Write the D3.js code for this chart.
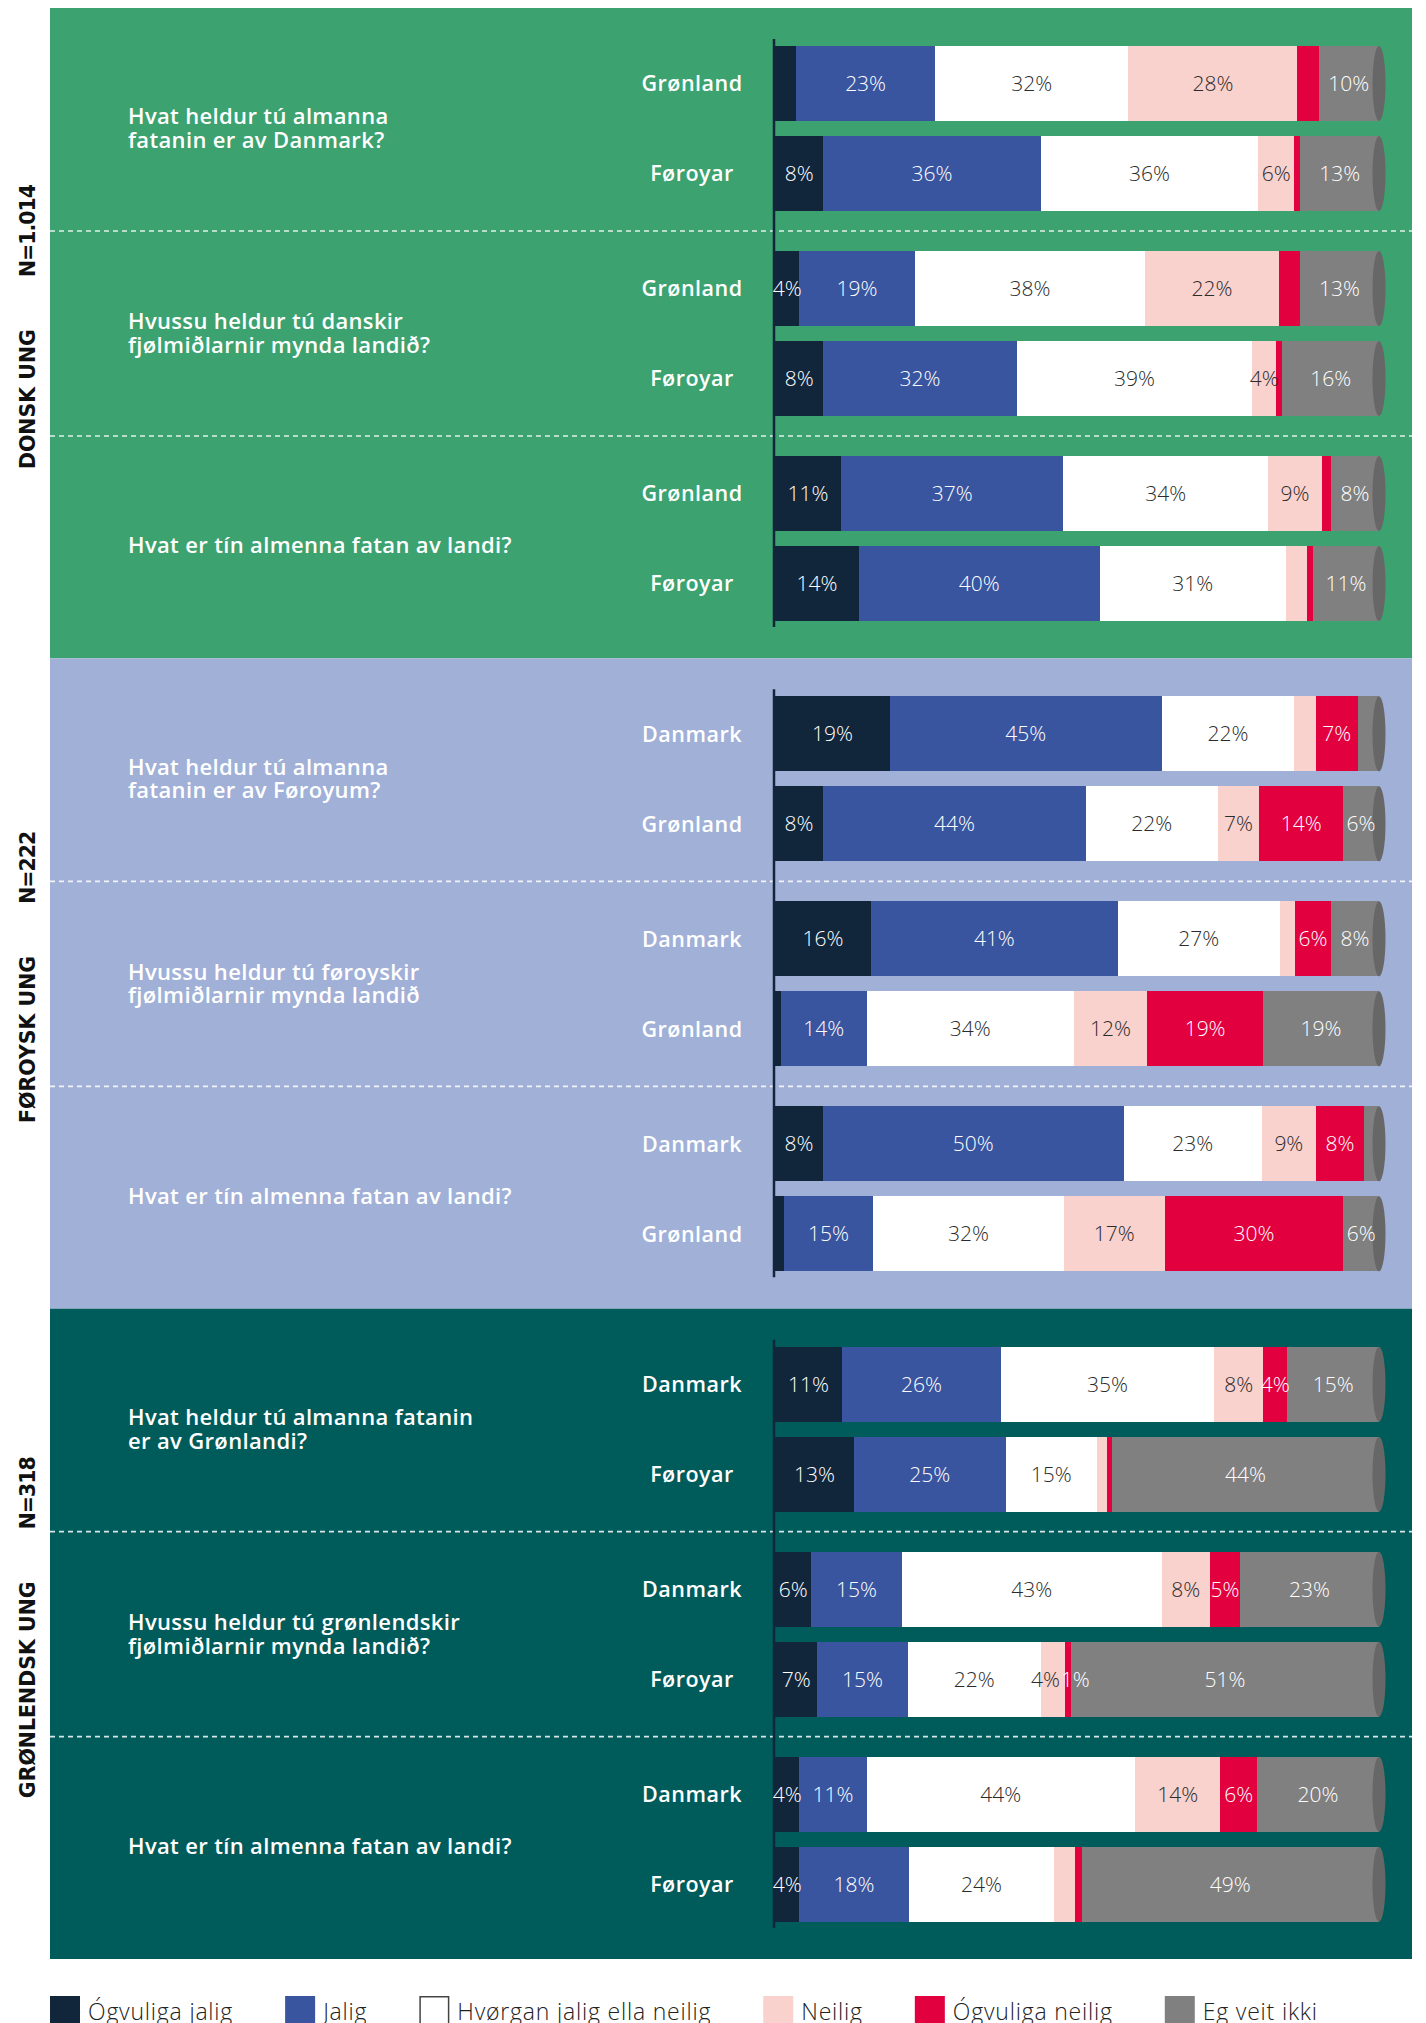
<!DOCTYPE html>
<html>
<head>
<meta charset="utf-8">
<script src="https://cdn.jsdelivr.net/npm/d3@7/dist/d3.min.js"></script>
<style>
  html, body { margin: 0; padding: 0; background: #ffffff; }
  svg { display: block; }
</style>
</head>
<body>
<svg id="chart" width="1426" height="2023"></svg>
<script>
// ---------- DATA ----------
const sections = ["DONSK UNG", "FØROYSK UNG", "GRØNLENDSK UNG"];
const sampleSizes = ["N=1.014", "N=222", "N=318"];
const questions = [
  ["Hvat heldur tú almanna", "fatanin er av Danmark?"],
  ["Hvussu heldur tú danskir", "fjølmiðlarnir mynda landið?"],
  ["Hvat er tín almenna fatan av landi?"],
  ["Hvat heldur tú almanna", "fatanin er av Føroyum?"],
  ["Hvussu heldur tú føroyskir", "fjølmiðlarnir mynda landið"],
  ["Hvat er tín almenna fatan av landi?"],
  ["Hvat heldur tú almanna fatanin", "er av Grønlandi?"],
  ["Hvussu heldur tú grønlendskir", "fjølmiðlarnir mynda landið?"],
  ["Hvat er tín almenna fatan av landi?"]
];
const rowLabels = [
  "Grønland", "Føroyar", "Grønland", "Føroyar", "Grønland", "Føroyar",
  "Danmark", "Grønland", "Danmark", "Grønland", "Danmark", "Grønland",
  "Danmark", "Føroyar", "Danmark", "Føroyar", "Danmark", "Føroyar"
];
const seriesNames = ["Ógvuliga jalig", "Jalig", "Hvørgan jalig ella neilig", "Neilig", "Ógvuliga neilig", "Eg veit ikki"];

const ogvuligaJalig  = [3.5, 8, 4, 8, 11, 14,  19, 8, 16, 1, 8, 1.5,  11, 13, 6, 7, 4, 4];
const jalig          = [23, 36, 19, 32, 37, 40,  45, 44, 41, 14, 50, 15,  26, 25, 15, 15, 11, 18];
const hvorgan        = [32, 36, 38, 39, 34, 31,  22, 22, 27, 34, 23, 32,  35, 15, 43, 22, 44, 24];
const neilig         = [28, 6, 22, 4, 9, 3.5,  3.5, 7, 2.5, 12, 9, 17,  8, 1.7, 8, 4, 14, 3.5];
const ogvuligaNeilig = [3.5, 1, 3.5, 1, 1.5, 1,  7, 14, 6, 19, 8, 30,  4, 0.8, 5, 1, 6, 1];
const vetIkki        = [10, 13, 13, 16, 8, 11,  3.5, 6, 8, 19, 2.5, 6,  15, 44, 23, 51, 20, 49];

// small segments that still carry a label in the original: [row, series]
const forcedLabels = [[15, 4]];

// ---------- STYLE ----------
const seriesColors = ["#12263b", "#3955a0", "#ffffff", "#f9d1cd", "#e3003f", "#808080"];
const labelColors  = ["#ffffff", "#ffffff", "#2b2b2b", "#2b2b2b", "#ffffff", "#ffffff"];
const panelColors  = ["#3ca26f", "#a1b0d7", "#005b5b"];
const capColor = "#676767";
const fontMain = "'Open Sans', 'Noto Sans', sans-serif";

const series = [ogvuligaJalig, jalig, hvorgan, neilig, ogvuligaNeilig, vetIkki];
const rows = rowLabels.map((label, i) => {
  const r = { index: i, label: label };
  series.forEach((s, k) => r["s" + k] = s[i]);
  r.total = d3.sum(series, s => s[i]);
  return r;
});
const keys = series.map((s, k) => "s" + k);
const stacked = d3.stack().keys(keys)(rows.map(r => {
  const o = { index: r.index };
  keys.forEach(k => o[k] = r[k] / r.total * 100);
  return o;
}));

const svg = d3.select("#chart");

const sectionBand = d3.scaleBand().domain(d3.range(3)).range([8, 1959]);
const x = d3.scaleLinear().domain([0, 100]).range([775, 1379]);

function groupBand(top) {
  return d3.scaleBand().domain(d3.range(3)).range([top + 38, top + 613]).paddingInner(0.195);
}
const inner = d3.scaleBand().domain(d3.range(2)).range([0, 165]).paddingInner(1 / 6);

function rowY(i) {
  const s = Math.floor(i / 6), g = Math.floor((i % 6) / 2), b = i % 2;
  return groupBand(sectionBand(s))(g) + inner(b);
}

// panels
sections.forEach((name, s) => {
  const top = sectionBand(s);
  const gb = groupBand(top);
  const g = svg.append("g");
  g.append("rect")
    .attr("x", 50).attr("y", top)
    .attr("width", 1362).attr("height", sectionBand.bandwidth())
    .attr("fill", panelColors[s]);

  // dashed separators
  [1, 2].forEach(k => {
    const yy = gb(k) - (gb.step() - gb.bandwidth()) / 2;
    g.append("line")
      .attr("x1", 50).attr("x2", 1412)
      .attr("y1", yy).attr("y2", yy)
      .attr("stroke", "#ffffff").attr("stroke-opacity", 0.85)
      .attr("stroke-width", 1.6)
      .attr("stroke-dasharray", "5,4");
  });

  // axis line
  g.append("line")
    .attr("x1", 774).attr("x2", 774)
    .attr("y1", top + 31).attr("y2", top + 619)
    .attr("stroke", "#12263b").attr("stroke-width", 2.5);

  // questions
  d3.range(3).forEach(k => {
    const lines = questions[s * 3 + k];
    const cy = gb(k) + gb.bandwidth() / 2 + (lines.length === 1 ? 7 : 0);
    const t = g.append("text")
      .attr("x", 128)
      .attr("font-family", fontMain)
      .attr("font-weight", 600)
      .attr("font-size", 22)
      .attr("letter-spacing", 0.35)
      .attr("fill", "#ffffff");
    lines.forEach((ln, li) => {
      t.append("tspan")
        .attr("x", 128)
        .attr("y", cy + (li - (lines.length - 1) / 2) * 23.5)
        .attr("dy", "0.35em")
        .text(ln);
    });
  });

  // rotated section label
  const ly = top + 319;
  const rt = svg.append("text")
    .attr("transform", `translate(35,${ly}) rotate(-90)`)
    .attr("text-anchor", "middle")
    .attr("font-family", "'DejaVu Sans', sans-serif")
    .attr("font-weight", 700)
    .attr("font-size", 20.5)
    .attr("fill", "#111111");
  rt.append("tspan").text(name);
  rt.append("tspan").attr("dx", 52).attr("letter-spacing", -1).text(sampleSizes[s]);
});

// bars
const barH = inner.bandwidth();
const segG = svg.append("g");
stacked.forEach((layer, k) => {
  segG.append("g")
    .selectAll("rect")
    .data(layer)
    .join("rect")
    .attr("x", d => x(d[0]))
    .attr("y", (d, i) => rowY(i))
    .attr("width", d => Math.max(0, x(d[1]) - x(d[0])))
    .attr("height", barH)
    .attr("fill", seriesColors[k])
    .attr("shape-rendering", "crispEdges");
});

// caps
segG.append("g").selectAll("ellipse")
  .data(rows)
  .join("ellipse")
  .attr("cx", x(100))
  .attr("cy", d => rowY(d.index) + barH / 2)
  .attr("rx", 6.5)
  .attr("ry", barH / 2)
  .attr("fill", capColor);

// value labels (with simple horizontal collision resolving per row)
const isForced = (i, k) => forcedLabels.some(f => f[0] === i && f[1] === k);
const labelItems = [];
rows.forEach((r, i) => {
  const items = [];
  stacked.forEach((layer, k) => {
    const v = series[k][i];
    if (v >= 4 || isForced(i, k)) {
      const d = layer[i];
      items.push({ i, k, v, cx: (x(d[0]) + x(d[1])) / 2 });
    }
  });
  labelItems.push(...items);
  r.labelItems = items;
});
const lblG = segG.append("g");
const lblSel = lblG.selectAll("text")
  .data(labelItems)
  .join("text")
  .attr("x", o => o.cx)
  .attr("y", o => rowY(o.i) + barH / 2)
  .attr("dy", "0.36em")
  .attr("text-anchor", "middle")
  .attr("font-family", fontMain)
  .attr("font-weight", 300)
  .attr("font-size", 21)
  .attr("fill", o => labelColors[o.k])
  .text(o => Math.round(o.v) + "%");
lblSel.each(function (o) { o.w = this.getComputedTextLength(); });
rows.forEach(r => {
  const it = r.labelItems;
  for (let j = 1; j < it.length; j++) {
    const a = it[j - 1], b = it[j];
    const need = (a.w + b.w) / 2 + 1;
    if (b.cx - a.cx < need) {
      const mid = (a.cx + b.cx) / 2;
      a.cx = mid - need / 2;
      b.cx = mid + need / 2;
    }
  }
});
lblSel.attr("x", o => o.cx);

// row labels
svg.append("g").selectAll("text")
  .data(rows)
  .join("text")
  .attr("x", 692)
  .attr("y", d => rowY(d.index) + barH / 2)
  .attr("dy", "0.36em")
  .attr("text-anchor", "middle")
  .attr("font-family", fontMain)
  .attr("font-weight", 600)
  .attr("font-size", 21.5)
  .attr("letter-spacing", 0.5)
  .attr("fill", "#ffffff")
  .text(d => d.label);

// legend
const leg = svg.append("g");
let lx = 50;
seriesNames.forEach((name, k) => {
  leg.append("rect")
    .attr("x", lx + (k === 2 ? 0.75 : 0)).attr("y", 1996 + (k === 2 ? 0.75 : 0))
    .attr("width", k === 2 ? 28.5 : 30).attr("height", 32)
    .attr("fill", seriesColors[k])
    .attr("stroke", k === 2 ? "#444444" : "none")
    .attr("stroke-width", 1.5);
  const t = leg.append("text")
    .attr("x", lx + 38).attr("y", 2020)
    .attr("font-family", fontMain)
    .attr("font-weight", 300)
    .attr("font-size", 23)
    .attr("letter-spacing", 0.8)
    .attr("fill", "#222222")
    .text(name);
  lx += 38 + t.node().getComputedTextLength() + 52;
});
</script>
</body>
</html>
